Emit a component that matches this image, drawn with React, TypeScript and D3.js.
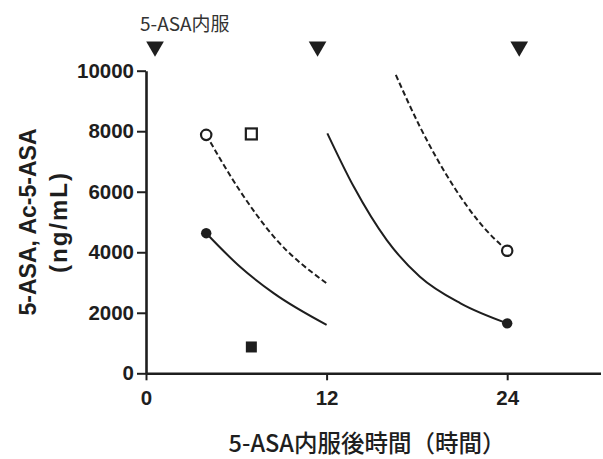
import * as d3 from "d3";
import React, { useRef, useEffect } from "react";

// dosing times (h) shown as triangles above the plot
const doseHours = [0.6, 11.4, 24.8];

// measured points
const asaPoints = [
  { h: 4, v: 4630 },
  { h: 24, v: 1650 },
];
const acPoints = [
  { h: 4, v: 7880 },
  { h: 24, v: 4050 },
];
const openSquares = [{ h: 7, v: 7910 }];
const filledSquares = [{ h: 7, v: 870 }];

// fitted curves
const asaCurveA = [
  [4, 4630],
  [6.25, 3520],
  [8.5, 2640],
  [12, 1600],
];
const asaCurveB = [
  [12.05, 7930],
  [13.8, 6170],
  [16, 4400],
  [18.2, 3190],
  [20.9, 2310],
  [24, 1650],
];
const acCurveA = [
  [4, 7880],
  [6.25, 6025],
  [8.5, 4510],
  [12, 2975],
];
const acCurveB = [
  [16.6, 9860],
  [18.2, 8150],
  [20.45, 6170],
  [22.2, 4960],
  [24, 4050],
];

const xTicks = [0, 12, 24];
const yTicks = [0, 2000, 4000, 6000, 8000, 10000];

const W = 603;
const H = 459;
const ink = "#1e1e1e";
const tickFont = "'Liberation Sans', Arial, sans-serif";
const cjkFont = "'Noto Sans CJK JP', 'Noto Sans', sans-serif";

const ConcentrationChart = () => {
  const svgRef = useRef<SVGSVGElement>(null);

  useEffect(() => {
    const svg = d3.select(svgRef.current);
    svg.selectAll("*").remove();

    const x = d3.scaleLinear().domain([0, 30.2]).range([146, 600.5]);
    const y = d3.scaleLinear().domain([0, 10000]).range([373.3, 70.7]);

    // y axis
    const yAxis = d3
      .axisLeft(y)
      .tickValues(yTicks)
      .tickFormat(d3.format("d"))
      .tickSize(9)
      .tickSizeOuter(0)
      .tickPadding(3);
    const gy = svg.append("g").attr("transform", `translate(${x(0)},0)`).call(yAxis);
    gy.select(".domain").attr("stroke", ink).attr("stroke-width", 2.6);
    gy.selectAll(".tick line").attr("stroke", ink).attr("stroke-width", 2);
    gy.selectAll(".tick text")
      .attr("fill", ink)
      .attr("font-family", tickFont)
      .attr("font-weight", "bold")
      .attr("font-size", 20.5);

    // x axis
    const xAxis = d3
      .axisBottom(x)
      .tickValues(xTicks)
      .tickFormat(d3.format("d"))
      .tickSize(7)
      .tickSizeOuter(0)
      .tickPadding(10);
    const gx = svg.append("g").attr("transform", `translate(0,${y(0)})`).call(xAxis);
    gx.select(".domain").attr("stroke", ink).attr("stroke-width", 2.6);
    gx.selectAll(".tick line").attr("stroke", ink).attr("stroke-width", 2);
    gx.selectAll(".tick text")
      .attr("fill", ink)
      .attr("font-family", tickFont)
      .attr("font-weight", "bold")
      .attr("font-size", 20.5);

    // curves
    const line = d3
      .line<number[]>()
      .x((d) => x(d[0]))
      .y((d) => y(d[1]))
      .curve(d3.curveMonotoneX);

    [asaCurveA, asaCurveB].forEach((c) => {
      svg.append("path").attr("d", line(c)).attr("fill", "none").attr("stroke", ink).attr("stroke-width", 2);
    });
    [acCurveA, acCurveB].forEach((c) => {
      svg
        .append("path")
        .attr("d", line(c))
        .attr("fill", "none")
        .attr("stroke", ink)
        .attr("stroke-width", 2)
        .attr("stroke-dasharray", "5.5,3");
    });

    // markers
    svg
      .selectAll(".asa")
      .data(asaPoints)
      .join("circle")
      .attr("cx", (d) => x(d.h))
      .attr("cy", (d) => y(d.v))
      .attr("r", 5.2)
      .attr("fill", ink);
    svg
      .selectAll(".ac")
      .data(acPoints)
      .join("circle")
      .attr("cx", (d) => x(d.h))
      .attr("cy", (d) => y(d.v))
      .attr("r", 5.2)
      .attr("fill", "#fff")
      .attr("stroke", ink)
      .attr("stroke-width", 2.2);
    svg
      .selectAll(".sqo")
      .data(openSquares)
      .join("rect")
      .attr("x", (d) => x(d.h) - 5.5)
      .attr("y", (d) => y(d.v) - 5.5)
      .attr("width", 11)
      .attr("height", 11)
      .attr("fill", "#fff")
      .attr("stroke", ink)
      .attr("stroke-width", 2.2);
    svg
      .selectAll(".sqf")
      .data(filledSquares)
      .join("rect")
      .attr("x", (d) => x(d.h) - 5.5)
      .attr("y", (d) => y(d.v) - 5.5)
      .attr("width", 11)
      .attr("height", 11)
      .attr("fill", ink);

    // dosing triangles
    const tri = d3.symbol().type(d3.symbolTriangle).size(135);
    svg
      .selectAll(".dose")
      .data(doseHours)
      .join("path")
      .attr("d", tri)
      .attr("transform", (d) => `translate(${x(d)},46.5) rotate(180)`)
      .attr("fill", ink);

    svg
      .append("text")
      .attr("x", 140)
      .attr("y", 31)
      .attr("font-family", cjkFont)
      .attr("font-size", 19)
      .attr("fill", "#333")
      .text("5-ASA内服");

    // axis titles
    const yt = svg
      .append("text")
      .attr("transform", `translate(42,${(y(0) + y(10000)) / 2}) rotate(-90)`)
      .attr("text-anchor", "middle")
      .attr("font-family", tickFont)
      .attr("font-weight", "bold")
      .attr("font-size", 23)
      .attr("fill", ink);
    yt.append("tspan").attr("x", 0).attr("dy", -6).text("5-ASA, Ac-5-ASA");
    yt.append("tspan")
      .attr("x", 0)
      .attr("dy", 31)
      .attr("font-size", 24)
      .attr("letter-spacing", 2)
      .text("(ng/mL)");

    svg
      .append("text")
      .attr("x", 367)
      .attr("y", 452)
      .attr("text-anchor", "middle")
      .attr("font-family", cjkFont)
      .attr("font-weight", 500)
      .attr("font-size", 23.5)
      .attr("fill", ink)
      .text("5-ASA内服後時間（時間）");
  }, []);

  return <svg ref={svgRef} width={W} height={H} style={{ display: "block", background: "#fff" }} />;
};

export default function App() {
  return (
    <div style={{ position: "absolute", left: 0, top: 0 }}>
      <ConcentrationChart />
    </div>
  );
}
